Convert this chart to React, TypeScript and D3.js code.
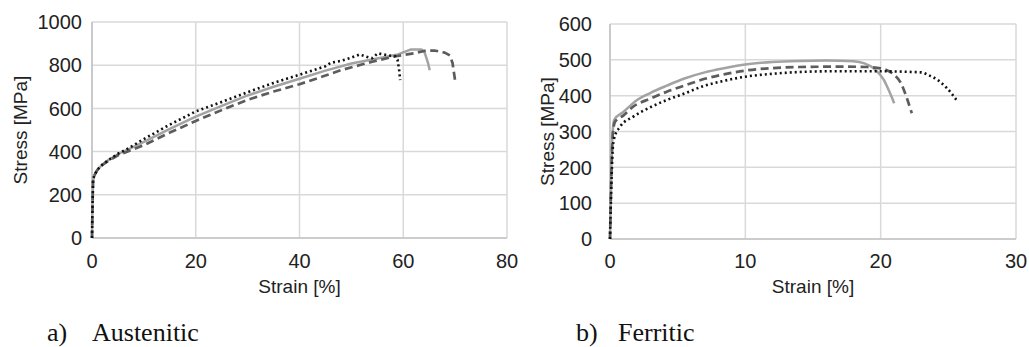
import React, { useEffect, useRef } from 'react';
import * as d3 from 'd3';

// Austenitic specimens: [strain %, stress MPa]
const austeniticSolid: [number, number][] = [
  [0, 0], [0.1, 150], [0.2, 262], [0.4, 287], [1, 315], [2, 340], [3, 358], [5, 388], [7, 410],
  [10, 445], [15, 505], [20, 562], [25, 612], [30, 660], [35, 700], [40, 737], [45, 775],
  [50, 808], [55, 831], [59, 850], [61.5, 873], [63.5, 873], [64.1, 860], [64.8, 808], [65.1, 777],
];
const austeniticDashed: [number, number][] = [
  [0, 0], [0.1, 150], [0.2, 262], [0.4, 287], [1, 314], [2, 338], [3, 355], [5, 383], [7, 402],
  [10, 430], [15, 488], [20, 542], [25, 592], [30, 640], [35, 678], [40, 712], [45, 752],
  [48, 777], [52, 803], [54, 816], [58, 839], [62, 855], [64, 866], [66, 868], [68, 858],
  [69, 845], [69.5, 810], [70, 728],
];
const austeniticDotted: [number, number][] = [
  [0, 0], [0.1, 150], [0.2, 262], [0.4, 287], [1, 315], [2, 340], [3, 358], [5, 390], [7, 415],
  [10, 458], [15, 525], [20, 586], [25, 630], [30, 675], [35, 718], [40, 756], [45, 795],
  [46, 811], [48, 820], [50, 835], [51.6, 850], [52.9, 839], [54, 832], [55.1, 855], [57, 846],
  [58.4, 842], [58.9, 825], [59.2, 780], [59.4, 731],
];

// Ferritic specimens
const ferriticSolid: [number, number][] = [
  [0, 0], [0.1, 200], [0.2, 300], [0.3, 332], [1, 355], [2, 388], [3, 408], [4.2, 428],
  [5.5, 448], [7, 465], [8.5, 477], [10, 487], [12, 494], [14, 497], [16, 498], [18, 496],
  [18.8, 490], [19.5, 476], [20.2, 446], [20.6, 415], [21, 379],
];
const ferriticDashed: [number, number][] = [
  [0, 0], [0.1, 180], [0.2, 290], [0.37, 327], [1, 345], [1.7, 369], [3, 392], [4.2, 411],
  [5.5, 428], [7, 447], [8.5, 460], [10, 470], [12, 477], [14, 480], [17, 481], [19, 480],
  [20, 476], [21, 458], [21.5, 435], [21.9, 397], [22.3, 351],
];
const ferriticDotted: [number, number][] = [
  [0, 0], [0.1, 150], [0.2, 250], [0.3, 280], [0.74, 313], [1.7, 341], [3, 368], [4.2, 388],
  [5.5, 406], [7, 428], [8.5, 442], [10, 453], [12, 461], [14, 466], [16, 468], [20, 468],
  [23, 465], [23.5, 458], [24.2, 444], [24.9, 421], [25.6, 388],
];

const austeniticXTicks = [0, 20, 40, 60, 80];
const austeniticYTicks = [0, 200, 400, 600, 800, 1000];
const ferriticXTicks = [0, 10, 20, 30];
const ferriticYTicks = [0, 100, 200, 300, 400, 500, 600];

const captions = [
  { tag: 'a)', name: 'Austenitic' },
  { tag: 'b)', name: 'Ferritic' },
];

const lineStyles = [
  { color: '#a3a3a3', width: 2.5, dash: null },
  { color: '#5c5c5c', width: 2.7, dash: '8,4.5' },
  { color: '#111111', width: 2.6, dash: '2,3' },
];

const FONT = '"Liberation Sans", Arial, sans-serif';

const App = () => {
  const chartRef = useRef<SVGSVGElement>(null);

  useEffect(() => {
    const svg = d3.select(chartRef.current);
    svg.selectAll('*').remove();

    const panels = [
      {
        left: 92, right: 507, top: 22, bottom: 238, xMax: 80, yMax: 1000,
        xTicks: austeniticXTicks, yTicks: austeniticYTicks, labelRight: 82, titleX: 20,
        series: [austeniticSolid, austeniticDashed, austeniticDotted], curve: d3.curveLinear,
      },
      {
        left: 610, right: 1016, top: 24, bottom: 239, xMax: 30, yMax: 600,
        xTicks: ferriticXTicks, yTicks: ferriticYTicks, labelRight: 592, titleX: 547,
        series: [ferriticSolid, ferriticDashed, ferriticDotted], curve: d3.curveMonotoneX,
      },
    ];

    panels.forEach((p) => {
      const x = d3.scaleLinear().domain([0, p.xMax]).range([p.left, p.right]);
      const y = d3.scaleLinear().domain([0, p.yMax]).range([p.bottom, p.top]);
      const g = svg.append('g');

      // gridlines
      g.selectAll('line.h')
        .data(p.yTicks)
        .enter()
        .append('line')
        .attr('x1', p.left).attr('x2', p.right)
        .attr('y1', (d) => y(d)).attr('y2', (d) => y(d))
        .attr('stroke', '#d9d9d9').attr('stroke-width', 1.5);
      g.selectAll('line.v')
        .data(p.xTicks)
        .enter()
        .append('line')
        .attr('y1', p.top).attr('y2', p.bottom)
        .attr('x1', (d) => x(d)).attr('x2', (d) => x(d))
        .attr('stroke', '#d9d9d9').attr('stroke-width', 1.5);

      // axis lines, a little darker
      g.append('line')
        .attr('x1', p.left).attr('x2', p.right).attr('y1', p.bottom).attr('y2', p.bottom)
        .attr('stroke', '#c4c4c4').attr('stroke-width', 1.6);
      g.append('line')
        .attr('x1', p.left).attr('x2', p.left).attr('y1', p.top).attr('y2', p.bottom)
        .attr('stroke', '#c4c4c4').attr('stroke-width', 1.6);

      // tick labels
      g.selectAll('text.xt')
        .data(p.xTicks)
        .enter()
        .append('text')
        .attr('x', (d) => x(d)).attr('y', 268)
        .attr('text-anchor', 'middle')
        .style('font-family', FONT).style('font-size', '20px').style('fill', '#222')
        .text((d) => d);
      g.selectAll('text.yt')
        .data(p.yTicks)
        .enter()
        .append('text')
        .attr('x', p.labelRight).attr('y', (d) => y(d))
        .attr('dy', '0.36em')
        .attr('text-anchor', 'end')
        .style('font-family', FONT).style('font-size', '20px').style('fill', '#222')
        .text((d) => d);

      // axis titles
      g.append('text')
        .attr('x', (p.left + p.right) / 2).attr('y', 293)
        .attr('text-anchor', 'middle')
        .style('font-family', FONT).style('font-size', '19px').style('fill', '#222')
        .text('Strain [%]');
      g.append('text')
        .attr('transform', `translate(${p.titleX},${(p.top + p.bottom) / 2}) rotate(-90)`)
        .attr('dy', '0.36em')
        .attr('text-anchor', 'middle')
        .style('font-family', FONT).style('font-size', '19px').style('fill', '#222')
        .text('Stress [MPa]');

      // curves
      const line = d3.line<[number, number]>()
        .x((d) => x(d[0]))
        .y((d) => y(d[1]))
        .curve(p.curve);
      p.series.forEach((s, i) => {
        const st = lineStyles[i];
        g.append('path')
          .attr('d', line(s))
          .attr('fill', 'none')
          .attr('stroke', st.color)
          .attr('stroke-width', st.width)
          .attr('stroke-dasharray', st.dash)
          .attr('stroke-linejoin', 'round');
      });
    });

    // captions under the panels
    const capX = [[47, 92], [576, 618]];
    captions.forEach((c, i) => {
      svg.append('text')
        .attr('x', capX[i][0]).attr('y', 341)
        .style('font-family', '"Liberation Serif", "Times New Roman", serif')
        .style('font-size', '26px').style('fill', '#111')
        .text(c.tag);
      svg.append('text')
        .attr('x', capX[i][1]).attr('y', 341)
        .style('font-family', '"Liberation Serif", "Times New Roman", serif')
        .style('font-size', '26px').style('fill', '#111')
        .text(c.name);
    });
  }, []);

  return (
    <div style={{ position: 'absolute', left: 0, top: 0, background: '#fff' }}>
      <svg ref={chartRef} width={1029} height={347} />
    </div>
  );
};

export default App;
